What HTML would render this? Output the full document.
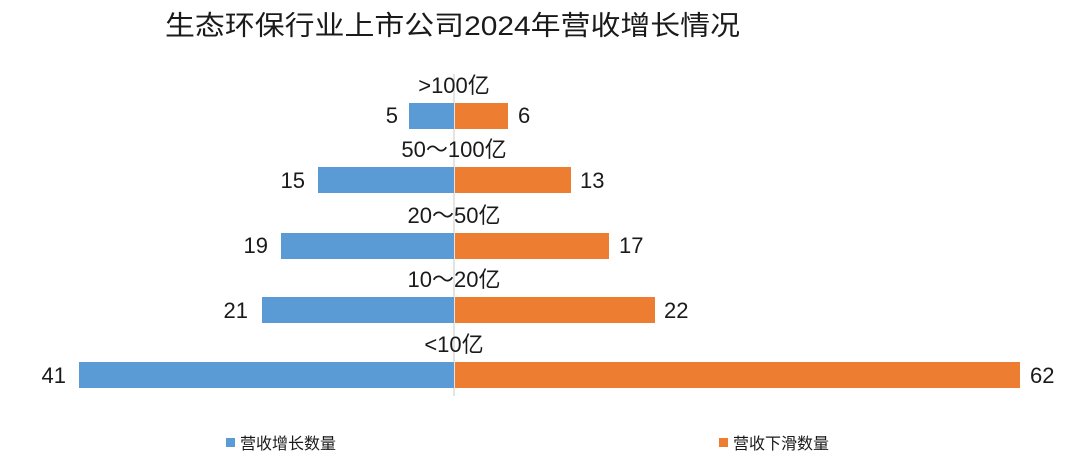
<!DOCTYPE html>
<html><head><meta charset="utf-8"><style>
html,body{margin:0;padding:0;background:#fff;width:1080px;height:460px;overflow:hidden}
text{font-family:"Liberation Sans","Noto Sans CJK SC",sans-serif;fill:#1a1a1a}
</style></head><body>
<svg width="1080" height="460" xmlns="http://www.w3.org/2000/svg">
<text x="165" y="35" font-size="27" textLength="575" lengthAdjust="spacingAndGlyphs" font-family="Noto Sans CJK SC,sans-serif">生态环保行业上市公司2024年营收增长情况</text>
<line x1="454" y1="74" x2="454" y2="396" stroke="#c8c8c8" stroke-width="1"/>
<g fill="#5b9bd5">
<rect x="409" y="103" width="45" height="26"/>
<rect x="318" y="167" width="136" height="26"/>
<rect x="281" y="233" width="173" height="26"/>
<rect x="262" y="297" width="192" height="26"/>
<rect x="79" y="362" width="375" height="26"/>
</g>
<g fill="#ed7d31">
<rect x="455" y="103" width="53" height="26"/>
<rect x="455" y="167" width="116" height="26"/>
<rect x="455" y="233" width="154" height="26"/>
<rect x="455" y="297" width="200" height="26"/>
<rect x="455" y="362" width="565" height="26"/>
</g>
<g font-size="22" text-anchor="middle">
<text x="454" y="93">&gt;100亿</text>
<text x="454" y="157">50～100亿</text>
<text x="454" y="223">20～50亿</text>
<text x="454" y="287">10～20亿</text>
<text x="454" y="352">&lt;10亿</text>
</g>
<g font-size="22" text-anchor="end">
<text x="398" y="123">5</text>
<text x="305" y="188">15</text>
<text x="268" y="253">19</text>
<text x="248" y="318">21</text>
<text x="66" y="383">41</text>
</g>
<g font-size="22">
<text x="518" y="123">6</text>
<text x="580" y="188">13</text>
<text x="619" y="253">17</text>
<text x="664" y="318">22</text>
<text x="1030" y="383">62</text>
</g>
<rect x="226" y="438" width="9" height="9" fill="#5b9bd5"/>
<text x="240" y="449" font-size="16" fill="#595959">营收增长数量</text>
<rect x="719" y="438" width="9" height="9" fill="#ed7d31"/>
<text x="733" y="449" font-size="16" fill="#595959">营收下滑数量</text>
</svg>
</body></html>
